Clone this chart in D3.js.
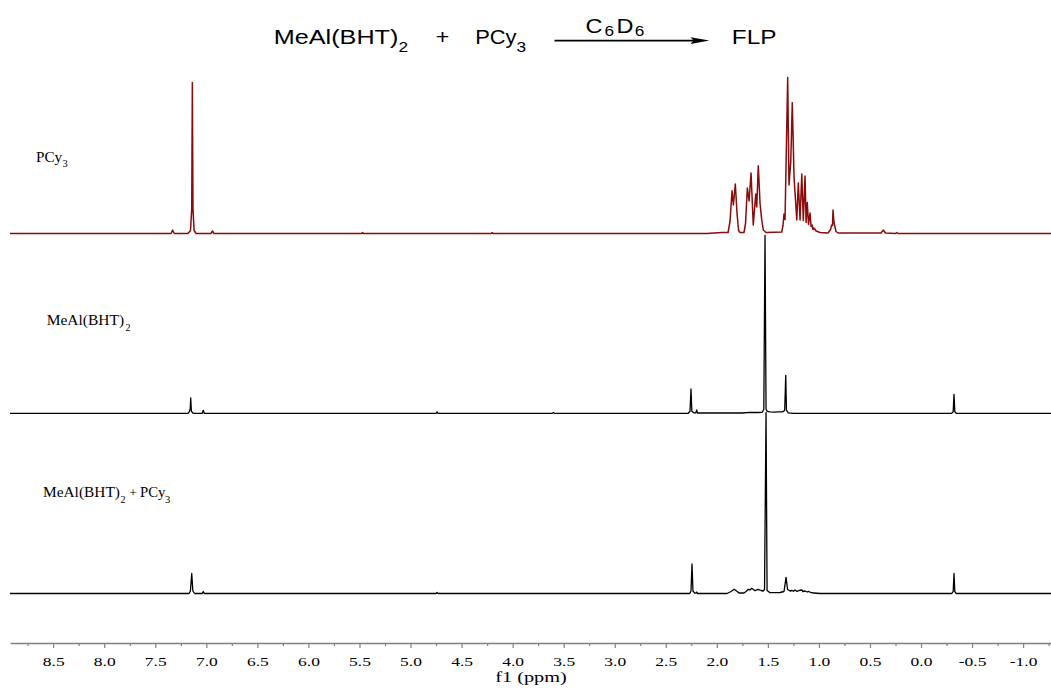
<!DOCTYPE html>
<html><head><meta charset="utf-8">
<script src="https://cdn.jsdelivr.net/npm/d3@7"></script>
<style>body{margin:0;background:#fff}svg{display:block}</style>
</head><body><svg id="c" width="1051" height="688"></svg>
<script>
// ---- data (ppm, intensity) ----
const pcy3Trace = [[8.923,0],[7.345,0],[7.33,3.5],[7.315,0],
[7.18,0],[7.155,3],[7.143,25],[7.137,151],[7.131,25],[7.12,3],[7.10,0],
[6.955,0],[6.94,2.5],[6.925,0],[5.48,0],[5.47,1],[5.46,0],[4.21,0],[4.20,0.8],[4.19,0],
[2.10,0],[1.95,1],
[1.890,1],[1.871,12],[1.851,42.8],[1.838,28.5],[1.819,49.5],[1.802,20],[1.787,3],[1.773,1],
[1.734,1],[1.719,10],[1.701,45.5],[1.684,32.5],[1.665,60.5],[1.643,8.5],[1.619,39.5],[1.609,26.5],[1.594,67.8],[1.577,30.5],[1.562,15],[1.545,3.5],[1.518,1],
[1.364,1.5],[1.352,8],[1.342,19.5],[1.332,14],[1.306,156],[1.293,48.5],[1.276,71.5],[1.261,130.8],[1.244,57],[1.217,13.5],[1.202,50.5],[1.185,13.5],[1.168,59.5],[1.153,13],[1.136,57.5],[1.126,11],[1.114,31],[1.102,9],[1.087,20.5],[1.077,7],[1.067,8.5],[1.058,4],[1.048,5.5],[1.028,2.5],[0.989,1],
[0.911,0.5],[0.886,4],[0.875,8.5],[0.867,8],[0.862,23.5],[0.854,12],[0.849,9.5],[0.833,2],[0.813,0.5],
[0.392,0.5],[0.369,3.5],[0.348,0.5],[0.25,0],[0.238,1],[0.226,0],[-1.273,0]];

const mealTrace = [[8.923,0],[7.18,0],[7.165,2],[7.158,4],[7.153,15.3],[7.147,2.5],[7.135,0.5],[7.12,0],
[7.04,0],[7.03,3],[7.02,0],[4.75,0],[4.74,1.5],[4.73,0],[3.61,0],[3.60,0.8],[3.59,0],
[2.28,0],[2.263,2],[2.253,24.3],[2.245,2],[2.225,0.5],[2.205,0.5],[2.197,3.3],[2.189,0.3],
[1.75,0.3],[1.675,1],[1.60,0.8],[1.555,1],[1.54,4],[1.528,178],[1.518,4],[1.505,2],[1.479,1.5],[1.44,1.2],[1.40,1.5],[1.36,1.5],[1.345,2],[1.335,3.5],[1.325,38],[1.318,3],[1.30,0.5],[1.25,0],
[-0.30,0],[-0.315,1.5],[-0.323,19],[-0.331,1.5],[-0.345,0],[-1.273,0]];

const mixTrace = [[8.923,0],[7.17,0],[7.156,2.5],[7.143,20],[7.132,2.5],[7.115,0],[7.04,0],[7.03,2],[7.02,0],
[4.75,0],[4.74,1],[4.73,0],
[2.265,0],[2.253,2.5],[2.243,29.5],[2.234,2.5],[2.215,0.3],[2.205,0.3],[2.197,1.5],[2.189,0],
[1.90,0],[1.861,2],[1.831,4.2],[1.807,2.5],[1.783,0.5],[1.734,0.5],[1.714,2],[1.692,4.2],[1.675,3.5],[1.658,5.2],[1.626,2.8],[1.594,4.2],[1.567,3],[1.547,2.5],[1.533,4],[1.518,181],[1.508,3],[1.479,0.8],[1.381,1],[1.342,2],[1.322,16.2],[1.307,4],[1.299,3.5],[1.283,2.5],[1.263,3],[1.249,2.2],[1.234,3.5],[1.214,2],[1.195,3],[1.168,3.5],[1.156,2],[1.136,2.5],[1.116,1.5],[1.102,2.2],[1.077,0.8],[1.048,0.5],[0.989,0],
[-0.30,0],[-0.315,1.8],[-0.323,20],[-0.331,1.8],[-0.345,0],[-1.273,0]];

const majorTicks = [8.5,8.0,7.5,7.0,6.5,6.0,5.5,5.0,4.5,4.0,3.5,3.0,2.5,2.0,1.5,1.0,0.5,0.0,-0.5,-1.0];
const minorTicks = [8.75,8.25,7.75,7.25,6.75,6.25,5.75,5.25,4.75,4.25,3.75,3.25,2.75,2.25,1.75,1.25,0.75,0.25,-0.25,-0.75,-1.25];
const axisTitle = "f1 (ppm)";

// ---- drawing ----
const svg = d3.select('#c');
const x = d3.scaleLinear().domain([8.923,-1.273]).range([10,1051]);
const SANS = "'Liberation Sans', Arial, sans-serif";
const SERIF = "'Liberation Serif', 'Times New Roman', serif";

function txt(xp, yp, s, size, fam, sx, anchor){
  return svg.append('text')
    .attr('transform', `translate(${xp},${yp}) scale(${sx},1)`)
    .attr('font-size', size).attr('font-family', fam)
    .attr('text-anchor', anchor || 'start').attr('fill', '#000').text(s);
}

const traces = [
  {data: pcy3Trace, base: 233.5, color: '#8b0a0a', w: 1.5},
  {data: mealTrace, base: 413.3, color: '#000', w: 1.3},
  {data: mixTrace, base: 593.5, color: '#000', w: 1.3}
];
traces.forEach(t => {
  const y = d3.scaleLinear().domain([0, 181]).range([t.base, t.base - 181]);
  const line = d3.line().x(d => x(d[0])).y(d => y(d[1]));
  svg.append('path').attr('d', line(t.data)).attr('fill', 'none')
    .attr('stroke', t.color).attr('stroke-width', t.w).attr('stroke-linejoin', 'round');
});

// axis
const ax = svg.append('g').attr('transform', 'translate(0,643)')
  .call(d3.axisBottom(x).tickValues(majorTicks).tickSize(5).tickSizeOuter(0).tickFormat(d => d.toFixed(1)));
ax.select('.domain').attr('stroke', '#808080').attr('stroke-width', 1.6);
ax.selectAll('.tick line').attr('stroke', '#808080').attr('stroke-width', 1.2);
ax.selectAll('.tick text').attr('y', 23.5).attr('dy', 0).attr('font-size', 12.5)
  .attr('font-family', SERIF).attr('fill', '#000').attr('transform', 'scale(1.4,1)');
const axm = svg.append('g').attr('transform', 'translate(0,643)')
  .call(d3.axisBottom(x).tickValues(minorTicks).tickSize(3).tickSizeOuter(0).tickFormat(''));
axm.select('.domain').remove();
axm.selectAll('.tick line').attr('stroke', '#808080').attr('stroke-width', 1.2);
txt(531, 682, axisTitle, 14.5, SERIF, 1.4, 'middle');

// trace labels
txt(36, 162, 'PCy', 14.5, SERIF, 1.05);
txt(62.5, 167, '3', 10.5, SERIF, 1.0);
txt(46.7, 325, 'MeAl(BHT)', 14.5, SERIF, 1.07);
txt(125.5, 331, '2', 10, SERIF, 1.0);
txt(43, 497, 'MeAl(BHT)', 14, SERIF, 1.1);
txt(120.5, 503, '2', 10, SERIF, 1.0);
txt(133, 497, '+', 13.5, SERIF, 1.0, 'middle');
txt(140, 497, 'PCy', 14, SERIF, 1.05);
txt(165, 503, '3', 10.5, SERIF, 1.0);

// title / reaction scheme
txt(273.8, 44.1, 'MeAl(BHT)', 21, SANS, 1.2);
txt(398.5, 51.7, '2', 15, SANS, 1.15);
txt(442.6, 44.1, '+', 21, SANS, 1.1, 'middle');
txt(475.2, 44.1, 'PCy', 21, SANS, 1.04);
txt(516.6, 51.7, '3', 15, SANS, 1.15);
svg.append('line').attr('x1', 554.5).attr('x2', 695).attr('y1', 40.6).attr('y2', 40.6)
  .attr('stroke', '#000').attr('stroke-width', 1.6);
svg.append('path').attr('d', 'M690.5,37.3 L709.4,40.6 L690.5,43.9 L693.5,40.6 Z').attr('fill', '#000');
txt(585.5, 32.7, 'C', 21, SANS, 1.12);
txt(604.4, 35.6, '6', 15, SANS, 1.15);
txt(616.5, 32.7, 'D', 21, SANS, 1.12);
txt(634.7, 35.6, '6', 15, SANS, 1.15);
txt(731.8, 44.1, 'FLP', 21, SANS, 1.16);
</script></body></html>
